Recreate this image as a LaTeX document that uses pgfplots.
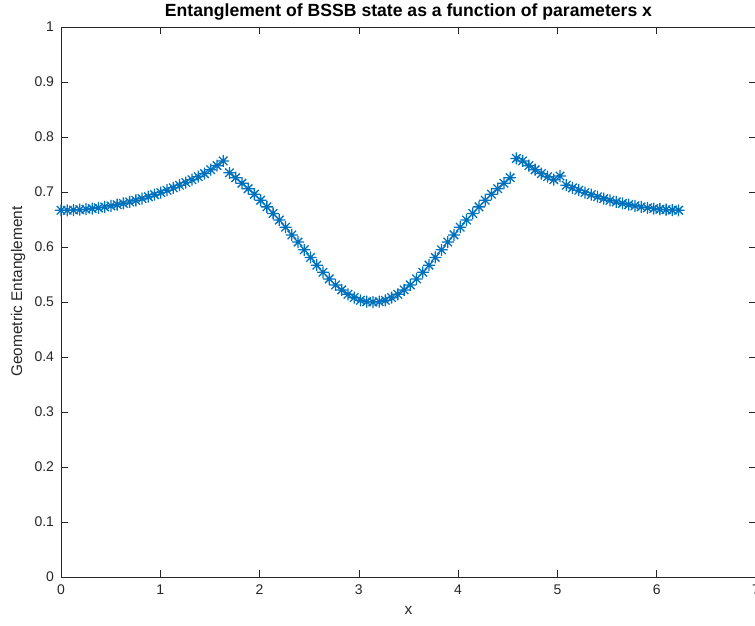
\documentclass[border=0pt]{standalone}
\usepackage{pgfplots}
\pgfplotsset{compat=1.18}
\usepackage{fontspec}
\setmainfont{Liberation Sans}
\definecolor{mblue}{rgb}{0,0.447,0.741}
\definecolor{axgray}{rgb}{0.15,0.15,0.15}
\pgfdeclareplotmark{mstar}{%
  \pgfpathmoveto{\pgfqpoint{0pt}{\pgfplotmarksize}}%
  \pgfpathlineto{\pgfqpoint{0pt}{-\pgfplotmarksize}}%
  \pgfpathmoveto{\pgfqpoint{\pgfplotmarksize}{0pt}}%
  \pgfpathlineto{\pgfqpoint{-\pgfplotmarksize}{0pt}}%
  \pgfpathmoveto{\pgfqpoint{0.7071\pgfplotmarksize}{0.7071\pgfplotmarksize}}%
  \pgfpathlineto{\pgfqpoint{-0.7071\pgfplotmarksize}{-0.7071\pgfplotmarksize}}%
  \pgfpathmoveto{\pgfqpoint{0.7071\pgfplotmarksize}{-0.7071\pgfplotmarksize}}%
  \pgfpathlineto{\pgfqpoint{-0.7071\pgfplotmarksize}{0.7071\pgfplotmarksize}}%
  \pgfusepathqstroke}
\begin{document}
\begin{tikzpicture}
\begin{axis}[
  at={(0,0)}, anchor=south west,
  scale only axis, width=695pt, height=550pt,
  xmin=0, xmax=7, ymin=0, ymax=1,
  xtick={0,1,2,3,4,5,6,7},
  ytick={0,0.1,0.2,0.3,0.4,0.5,0.6,0.7,0.8,0.9,1},
  yticklabels={0,0.1,0.2,0.3,0.4,0.5,0.6,0.7,0.8,0.9,1},
  xticklabels={0,1,2,3,4,5,6,7},
  tick align=inside,
  major tick length=7pt,
  axis line style={axgray, line width=0.6pt},
  tick style={axgray, line width=0.6pt},
  ticklabel style={font=\fontsize{14}{16}\selectfont, text=axgray},
  yticklabel style={xshift=-3.5pt},
  xticklabel style={yshift=-4pt},
  /pgf/number format/assume math mode=true,
  title={\bfseries Entanglement of BSSB state as a function of parameters x},
  title style={at={(axis description cs:0.5,1)}, anchor=base, yshift=4pt, font=\fontsize{17.6}{20}\selectfont, text=black},
  xlabel={x},
  xlabel style={at={(axis description cs:0.5,-0.06)}, anchor=center, font=\fontsize{15.4}{18}\selectfont, text=axgray},
  ylabel={Geometric Entanglement},
  ylabel style={at={(axis description cs:-0.0615,0.519)}, anchor=center, font=\fontsize{15.4}{18}\selectfont, text=axgray},
]
\addplot[only marks, mark=mstar, mark size=6pt, color=mblue, mark options={line width=1.3pt}] coordinates {
(0,0.6667) (0.0628,0.6668) (0.1257,0.6672) (0.1885,0.6678) (0.2513,0.6687)
(0.3142,0.6699) (0.3770,0.6712) (0.4398,0.6729) (0.5027,0.6748) (0.5655,0.6769)
(0.6283,0.6793) (0.6912,0.6820) (0.7540,0.6849) (0.8168,0.6880) (0.8796,0.6914)
(0.9425,0.6951) (1.0053,0.6990) (1.0681,0.7032) (1.1310,0.7076) (1.1938,0.7123)
(1.2566,0.7172) (1.3195,0.7224) (1.3823,0.7278) (1.4451,0.7335) (1.5080,0.7405)
(1.5708,0.7480) (1.6336,0.7565)
(1.6965,0.735) (1.7593,0.726) (1.8221,0.716) (1.8850,0.706) (1.9478,0.696)
(2.0106,0.685) (2.0735,0.673) (2.1363,0.661) (2.1991,0.649) (2.2619,0.636)
(2.3248,0.622) (2.3876,0.609) (2.4504,0.595) (2.5133,0.581) (2.5761,0.567)
(2.6389,0.554) (2.7018,0.542) (2.7646,0.531) (2.8274,0.522) (2.8903,0.514)
(2.9531,0.508) (3.0159,0.503) (3.0788,0.5005) (3.1416,0.500)
(3.2044,0.5005) (3.2673,0.503) (3.3301,0.508) (3.3929,0.514) (3.4558,0.522)
(3.5186,0.531) (3.5814,0.542) (3.6442,0.554) (3.7071,0.567) (3.7699,0.581)
(3.8327,0.595) (3.8956,0.609) (3.9584,0.622) (4.0212,0.636) (4.0841,0.649)
(4.1469,0.661) (4.2097,0.673) (4.2726,0.685) (4.3354,0.696) (4.3982,0.706)
(4.4611,0.716) (4.5239,0.726)
(4.5867,0.7610) (4.6496,0.7565) (4.7124,0.7480) (4.7752,0.7405) (4.8381,0.7335)
(4.9009,0.7278) (4.9637,0.7224) (5.0265,0.729) (5.0894,0.7123) (5.1522,0.7076)
(5.2150,0.7032) (5.2779,0.6990) (5.3407,0.6951) (5.4035,0.6914) (5.4664,0.6880)
(5.5292,0.6849) (5.5920,0.6820) (5.6549,0.6793) (5.7177,0.6769) (5.7805,0.6748)
(5.8434,0.6729) (5.9062,0.6712) (5.9690,0.6699) (6.0319,0.6687) (6.0947,0.6678)
(6.1575,0.6672) (6.2204,0.6668)
};
\end{axis}
\pgfresetboundingbox
\path (-61pt,-48pt) rectangle (694pt,577pt);
\end{tikzpicture}
\end{document}
